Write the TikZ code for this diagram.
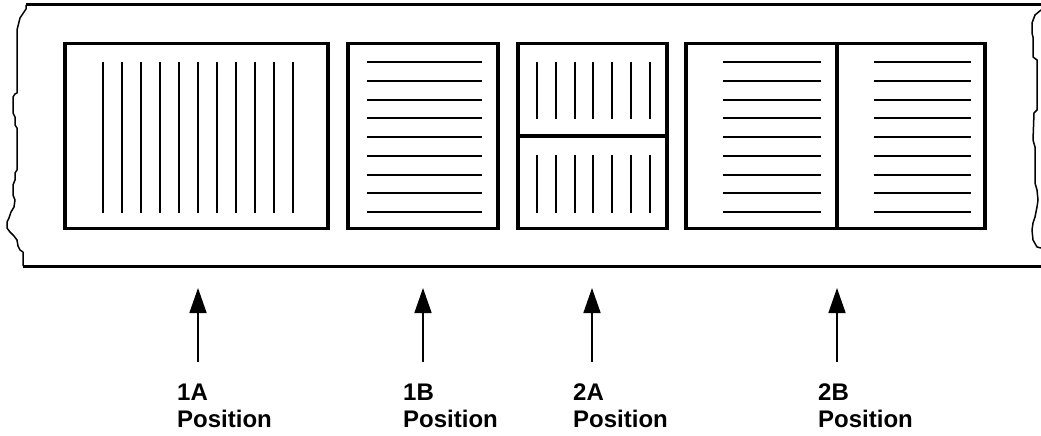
\documentclass[tikz,border=0pt]{standalone}
\usepackage{fontspec}
\setmainfont{Liberation Sans}
\usetikzlibrary{arrows.meta}
\begin{document}
\begin{tikzpicture}[x=1pt,y=-1pt,
  frame/.style={line width=3pt},
  tornedge/.style={line width=1.5pt, line join=round},
  slot/.style={line width=3.5pt},
  hatch/.style={line width=2pt},
  pointer/.style={line width=1.6pt, -{Triangle[length=25pt,width=17pt]}},
  lbl/.style={anchor=base west, align=left, font=\bfseries\fontsize{24}{27}\selectfont, inner sep=0pt}]
\useasboundingbox (0,0) rectangle (1041,436);
% strip
\draw[frame] (26,5) -- (1041,5);
\draw[frame] (23,266) -- (1041,266);
\draw[tornedge] (26,5) -- (26,9) -- (24,12) -- (22,15) -- (20,18) -- (19,22) -- (17,30) -- (17,93) -- (15,94) -- (13,97) -- (13,113) -- (15,117) -- (15,125) -- (17,128) -- (17,170) -- (15,173) -- (15,180) -- (13,185) -- (13,195) -- (15,200) -- (14,207) -- (11,212) -- (9,218) -- (7,222) -- (7,228) -- (10,232) -- (14,236) -- (17,240) -- (18,246) -- (20,250) -- (23,252) -- (23,266);
\draw[tornedge] (1041,10) -- (1035,15) -- (1032,23) -- (1032,33) -- (1033,37) -- (1033,57) -- (1037,60) -- (1037,110) -- (1034,113) -- (1033,140) -- (1035,147) -- (1035,183) -- (1037,190) -- (1038,200) -- (1037,207) -- (1035,217) -- (1033,223) -- (1032,230) -- (1033,240) -- (1037,247) -- (1041,248);
% 1A
\draw[slot] (65,43.5) rectangle (328,228.5);
\foreach \i in {0,...,10} \draw[hatch] ({103+19*\i},62) -- ({103+19*\i},213);
% 1B
\draw[slot] (348,43.5) rectangle (498,228.5);
\foreach \i in {0,...,8} \draw[hatch] (367,{62+18.75*\i}) -- (482,{62+18.75*\i});
% 2A
\draw[slot] (518,43.5) rectangle (667,228.5);
\draw[slot] (518,136) -- (667,136);
\foreach \i in {0,...,6} {
  \draw[hatch] ({537+18.83*\i},62) -- ({537+18.83*\i},119);
  \draw[hatch] ({537+18.83*\i},155) -- ({537+18.83*\i},213);
}
% 2B
\draw[slot] (686,43.5) rectangle (985,228.5);
\draw[slot] (837,43.5) -- (837,228.5);
\foreach \i in {0,...,8} {
  \draw[hatch] (723,{62+18.75*\i}) -- (821,{62+18.75*\i});
  \draw[hatch] (874,{62+18.75*\i}) -- (971,{62+18.75*\i});
}
% arrows
\coordinate (t1) at (198,288); \coordinate (b1) at (198,362);
\coordinate (t2) at (423,288); \coordinate (b2) at (423,362);
\coordinate (t3) at (592,288); \coordinate (b3) at (592,362);
\coordinate (t4) at (837,288); \coordinate (b4) at (837,362);
\draw[pointer] (b1) -- (t1);
\draw[pointer] (b2) -- (t2);
\draw[pointer] (b3) -- (t3);
\draw[pointer] (b4) -- (t4);
% labels
\node[lbl] (l1) at (177,427) {1A\\Position};
\node[lbl] (l2) at (403,427) {1B\\Position};
\node[lbl] (l3) at (573,427) {2A\\Position};
\node[lbl] (l4) at (818,427) {2B\\Position};
\end{tikzpicture}
\end{document}
